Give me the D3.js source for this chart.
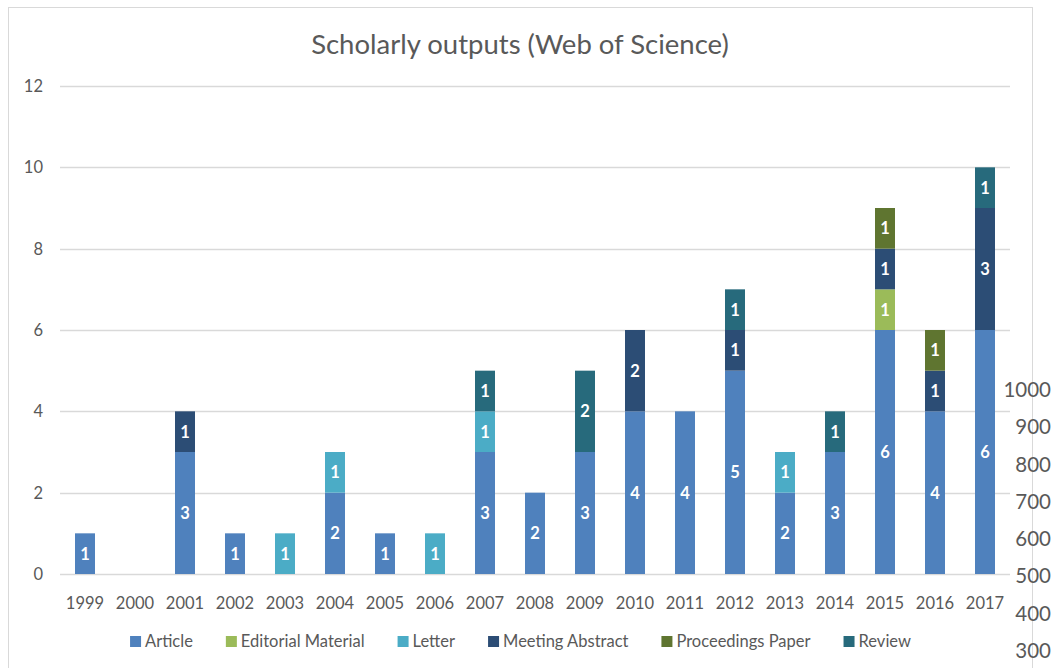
<!DOCTYPE html>
<html>
<head>
<meta charset="utf-8">
<script src="https://cdn.jsdelivr.net/npm/d3@7"></script>
<style>
  body { margin: 0; background: #fff; }
  svg { display: block; font-family: Lato, "Open Sans", sans-serif; }
</style>
</head>
<body>
<svg id="viz"></svg>
<script>
const WIDTH = 1055;
const HEIGHT = 668;

const years = ["1999","2000","2001","2002","2003","2004","2005","2006","2007","2008",
  "2009","2010","2011","2012","2013","2014","2015","2016","2017"];
const types = ["Article", "Editorial Material", "Letter", "Meeting Abstract", "Proceedings Paper", "Review"];
const typeColors = ["#4f81bd", "#9bbb59", "#4bacc6", "#2c4d75", "#5f7530", "#276a7c"];

// counts per year, one array per document type
const article      = [1,0,3,1,0,2,1,0,3,2,3,4,4,5,2,3,6,4,6];
const editorial    = [0,0,0,0,0,0,0,0,0,0,0,0,0,0,0,0,1,0,0];
const letter       = [0,0,0,0,1,1,0,1,1,0,0,0,0,0,1,0,0,0,0];
const meeting      = [0,0,1,0,0,0,0,0,0,0,0,2,0,1,0,0,1,1,3];
const proceedings  = [0,0,0,0,0,0,0,0,0,0,0,0,0,0,0,0,1,1,0];
const review       = [0,0,0,0,0,0,0,0,1,0,2,0,0,1,0,1,0,0,1];

const yTicks = [0, 2, 4, 6, 8, 10, 12];
// stray secondary axis labels on the right
const rightTicks = [1000, 900, 800, 700, 600, 500, 400, 300];

const seriesArrays = [article, editorial, letter, meeting, proceedings, review];
const table = years.map((y, i) => {
  const row = { year: y };
  types.forEach((t, k) => row[t] = seriesArrays[k][i]);
  return row;
});

const svg = d3.select("#viz").attr("width", WIDTH).attr("height", HEIGHT);

// chart frame
svg.append("rect")
  .attr("x", 8.5).attr("y", 7.5)
  .attr("width", 1024).attr("height", 700)
  .attr("fill", "none").attr("stroke", "#d9d9d9");

svg.append("text")
  .attr("x", 520).attr("y", 54)
  .attr("text-anchor", "middle")
  .attr("font-size", 27.5)
  .attr("fill", "#595959")
  .text("Scholarly outputs (Web of Science)");

const x = d3.scaleBand().domain(years).range([60, 1010]).paddingInner(0.6).paddingOuter(0.3);
const y = d3.scaleLinear().domain([0, 12]).range([574, 86]);

// gridlines
svg.append("g").selectAll("line")
  .data(yTicks)
  .join("line")
  .attr("x1", 60).attr("x2", 1010)
  .attr("y1", d => Math.round(y(d)) + 0.5).attr("y2", d => Math.round(y(d)) + 0.5)
  .attr("stroke", "#d9d9d9").attr("stroke-width", 1.3);

svg.append("g").selectAll("text")
  .data(yTicks)
  .join("text")
  .attr("x", 43).attr("y", d => y(d) + 6)
  .attr("text-anchor", "end")
  .attr("font-size", 16.5)
  .attr("fill", "#595959")
  .text(d => d);

// stacked bars
const stack = d3.stack().keys(types);
const series = stack(table);
const color = d3.scaleOrdinal().domain(types).range(typeColors);

const layers = svg.append("g").selectAll("g")
  .data(series)
  .join("g")
  .attr("fill", d => color(d.key));

layers.selectAll("rect")
  .data(d => d.filter(p => p[1] > p[0]))
  .join("rect")
  .attr("x", d => x(d.data.year))
  .attr("width", x.bandwidth())
  .attr("y", d => y(d[1]))
  .attr("height", d => y(d[0]) - y(d[1]));

layers.selectAll("text")
  .data(d => d.filter(p => p[1] > p[0]))
  .join("text")
  .attr("x", d => x(d.data.year) + x.bandwidth() / 2)
  .attr("y", d => (y(d[0]) + y(d[1])) / 2 + 6)
  .attr("text-anchor", "middle")
  .attr("font-size", 16.5)
  .attr("font-weight", "bold")
  .attr("fill", "#fff")
  .text(d => d[1] - d[0]);

// x labels
svg.append("g").selectAll("text")
  .data(years)
  .join("text")
  .attr("x", d => x(d) + x.bandwidth() / 2)
  .attr("y", 609)
  .attr("text-anchor", "middle")
  .attr("font-size", 16.5)
  .attr("fill", "#595959")
  .text(d => d);

// right labels
const yr = d3.scaleLinear().domain([1000, 300]).range([397, 658]);
svg.append("g").selectAll("text")
  .data(rightTicks)
  .join("text")
  .attr("x", 1051).attr("y", d => yr(d))
  .attr("text-anchor", "end")
  .attr("font-size", 20.5)
  .attr("fill", "#595959")
  .text(d => d);

// legend
const legend = svg.append("g");
const items = legend.selectAll("g")
  .data(types)
  .join("g");
items.append("rect")
  .attr("width", 11).attr("height", 11)
  .attr("y", -11)
  .attr("fill", d => color(d));
items.append("text")
  .attr("x", 15)
  .attr("font-size", 16.5)
  .attr("fill", "#595959")
  .text(d => d);

const GAP = 33;
let lx = 0;
items.each(function () {
  const w = d3.select(this).select("text").node().getComputedTextLength();
  d3.select(this).attr("transform", `translate(${lx},0)`);
  lx += 15 + w + GAP;
});
lx -= GAP;
legend.attr("transform", `translate(${129 + (783 - lx) / 2},647)`);
</script>
</body>
</html>
